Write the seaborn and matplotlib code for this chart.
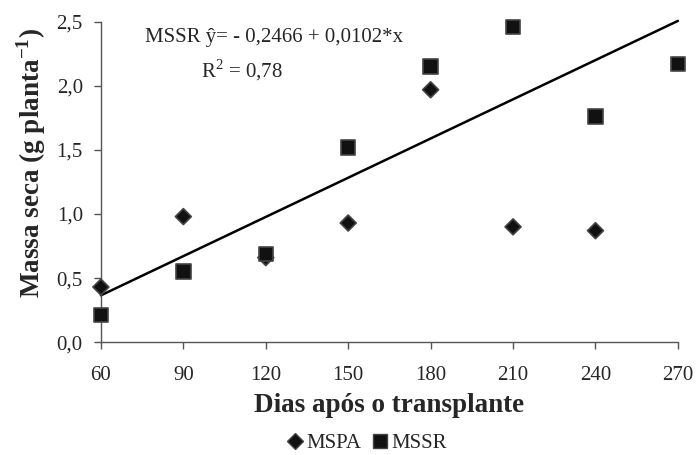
import numpy as np
import pandas as pd
import matplotlib
matplotlib.use("Agg")
import matplotlib.pyplot as plt
import seaborn as sns
from matplotlib.lines import Line2D

# Days after transplanting
dias = [60, 90, 120, 150, 180, 210, 240, 270]
# Dry mass (g per plant)
mspa = [0.43, 0.98, 0.66, 0.93, 1.97, 0.90, 0.87, None]
mssr = [0.21, 0.55, 0.69, 1.52, 2.15, 2.46, 1.76, 2.17]

# Regression fitted for MSSR
b0, b1 = -0.2466, 0.0102
r2 = 0.78

x_ticks = [60, 90, 120, 150, 180, 210, 240, 270]
y_ticks = [0.0, 0.5, 1.0, 1.5, 2.0, 2.5]
y_tick_labels = ["0,0", "0,5", "1,0", "1,5", "2,0", "2,5"]

sns.set_theme(style="white")
plt.rcParams["font.family"] = ["Liberation Serif", "DejaVu Serif"]
plt.rcParams["mathtext.fontset"] = "custom"
plt.rcParams["mathtext.rm"] = "Liberation Serif"
plt.rcParams["mathtext.bf"] = "Liberation Serif:bold"

df = pd.DataFrame({
    "Dias": dias * 2,
    "Massa": mspa + mssr,
    "Serie": ["MSPA"] * len(dias) + ["MSSR"] * len(dias),
}).dropna()

fig = plt.figure(figsize=(6.96, 4.55), dpi=100)
ax = fig.add_axes([0.145, 0.248, 0.829, 0.704])

sns.scatterplot(
    data=df, x="Dias", y="Massa", hue="Serie", style="Serie",
    markers={"MSPA": "D", "MSSR": "s"},
    palette={"MSPA": "#111111", "MSSR": "#111111"},
    s=90, edgecolor="#444444", linewidth=1.2,
    legend=False, ax=ax, zorder=3,
)
coll = ax.collections[0]
coll.set_sizes(np.where(df["Serie"].values == "MSPA", 66, 108))
coll.set_clip_on(False)

xs = np.array([60, 270])
ax.plot(xs, b0 + b1 * xs, color="black", lw=1.8, clip_on=False, zorder=2)

ax.set_xlim(60, 270)
ax.set_ylim(0, 2.5)
ax.set_xticks(x_ticks)
ax.set_xticklabels([str(t) for t in x_ticks])
ax.set_yticks(y_ticks)
ax.set_yticklabels(y_tick_labels)
ax.tick_params(axis="both", labelsize=15, length=5, width=1, color="#555555",
               direction="out", bottom=True, left=True)
ax.tick_params(axis="x", pad=12)
ax.tick_params(axis="y", pad=8)

for side in ["top", "right"]:
    ax.spines[side].set_visible(False)
for side in ["left", "bottom"]:
    ax.spines[side].set_color("#555555")
    ax.spines[side].set_linewidth(1)

ax.set_xlabel("Dias após o transplante", fontsize=19.5, fontweight="bold", labelpad=6)
ax.set_ylabel(r"Massa seca (g planta$^{\mathbf{-1}}$)", fontsize=19.5,
              fontweight="bold", labelpad=6)
ax.yaxis.label.set_y(0.56)

ax.text(0.30, 0.95, "MSSR ŷ= - 0,2466 + 0,0102*x", transform=ax.transAxes,
        fontsize=15, ha="center", va="center")
ax.text(0.245, 0.85, r"R$^2$ = 0,78", transform=ax.transAxes,
        fontsize=15, ha="center", va="center")

handles = [
    Line2D([], [], marker="D", ls="none", color="#111111", markeredgecolor="#444444",
           markersize=8),
    Line2D([], [], marker="s", ls="none", color="#111111", markeredgecolor="#444444",
           markersize=10),
]
fig.legend(handles, ["MSPA", "MSSR"], loc="center", bbox_to_anchor=(0.525, 0.025),
           ncol=2, frameon=False, fontsize=15, handletextpad=0.05,
           columnspacing=0.4, handlelength=1.0, borderpad=0)

fig.savefig("out.png", dpi=100)
